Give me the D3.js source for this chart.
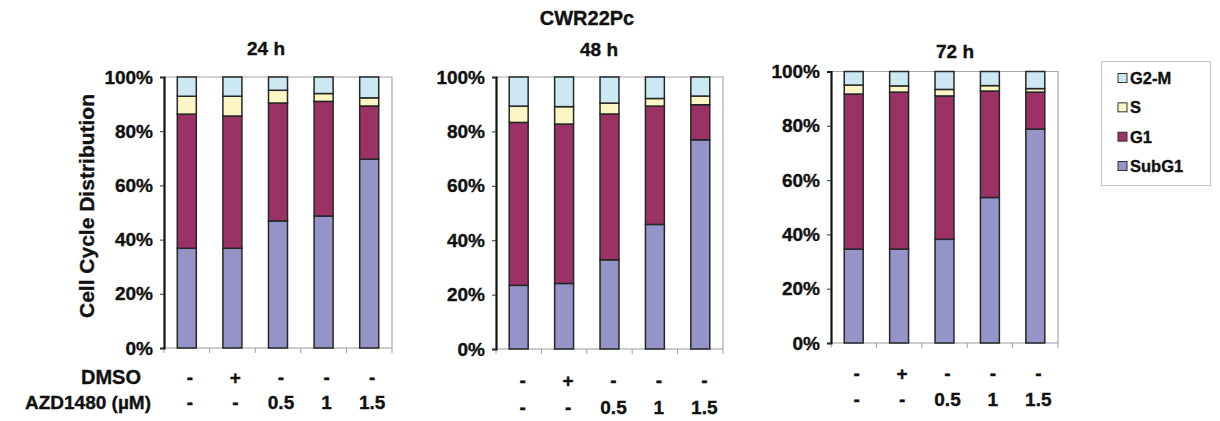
<!DOCTYPE html>
<html>
<head>
<meta charset="utf-8">
<script src="https://cdn.jsdelivr.net/npm/d3@7"></script>
<style>
  html, body { margin: 0; padding: 0; background: #fff; }
  svg { display: block; font-family: "Liberation Sans", Arial, Helvetica, sans-serif; font-weight: bold; }
  svg text { stroke: #111; stroke-width: 0.35px; }
</style>
</head>
<body>
<svg id="chart" width="1220" height="421"></svg>
<script>
// ---------- data ----------
const chartTitle = "CWR22Pc";
const panelTitles = ["24 h", "48 h", "72 h"];
const categories = ["c1", "c2", "c3", "c4", "c5"];
const dmsoLabels = ["-", "+", "-", "-", "-"];
const azdLabels = ["-", "-", "0.5", "1", "1.5"];
const rowLabels = ["DMSO", "AZD1480 (\u00b5M)"];
const phases = ["SubG1", "G1", "S", "G2-M"];
const legendOrder = ["G2-M", "S", "G1", "SubG1"];
const yTicks = [0, 20, 40, 60, 80, 100];

const subG1_24 = [36.8, 36.8, 46.9, 48.7, 69.7];
const g1_24    = [49.5, 48.8, 43.5, 42.3, 19.6];
const s_24     = [6.6, 7.3, 4.7, 2.9, 3.0];
const g2m_24   = [7.1, 7.1, 4.9, 6.1, 7.7];

const subG1_48 = [23.4, 24.1, 32.8, 45.8, 76.9];
const g1_48    = [59.9, 58.6, 53.6, 43.5, 12.9];
const s_48     = [6.0, 6.4, 4.0, 2.8, 3.2];
const g2m_48   = [10.7, 10.9, 9.6, 7.9, 7.0];

const subG1_72 = [34.6, 34.6, 38.2, 53.6, 78.8];
const g1_72    = [57.1, 57.8, 52.8, 39.2, 13.6];
const s_72     = [3.3, 2.3, 2.4, 2.0, 1.3];
const g2m_72   = [5.0, 5.3, 6.6, 5.2, 6.3];

const seriesByPanel = [
  [subG1_24, g1_24, s_24, g2m_24],
  [subG1_48, g1_48, s_48, g2m_48],
  [subG1_72, g1_72, s_72, g2m_72]
];

// ---------- styles / layout ----------
const colors = { "SubG1": "#9594c9", "G1": "#9a3265", "S": "#fbf6c3", "G2-M": "#cbe8f3" };
const layout = [
  { x0: 164, x1: 392, top: 77, bottom: 348, titleX: 266, titleY: 48, row1: 377, row2: 402, lblDx: 3 },
  { x0: 496, x1: 723, top: 77, bottom: 349, titleX: 599, titleY: 49, row1: 380, row2: 407, lblDx: 4 },
  { x0: 831, x1: 1058, top: 71.5, bottom: 343, titleX: 955, titleY: 51, row1: 373, row2: 399, lblDx: 3 }
];

const svg = d3.select("#chart");
const FS = 19;

svg.append("text").attr("x", 587).attr("y", 18)
  .attr("text-anchor", "middle").attr("dominant-baseline", "central")
  .attr("font-size", 20).attr("fill", "#111").text(chartTitle);

const stack = d3.stack().keys(phases);

layout.forEach((L, pi) => {
  const rows = categories.map((c, i) => {
    const o = { cat: c };
    phases.forEach((p, k) => { o[p] = seriesByPanel[pi][k][i]; });
    return o;
  });
  const stacked = stack(rows);

  const x = d3.scaleBand().domain(categories).range([L.x0, L.x1])
    .paddingInner(0.583).paddingOuter(0.583 / 2);
  const y = d3.scaleLinear().domain([0, 100]).range([L.bottom, L.top]);
  const g = svg.append("g");

  g.append("path")
    .attr("d", `M${L.x0},${L.top}H${L.x1}V${L.bottom}`)
    .attr("fill", "none").attr("stroke", "#a8a8a8").attr("stroke-width", 1.2);

  const step = x.step();
  const bounds = d3.range(categories.length + 1).map(i => L.x0 + i * step);
  g.append("line").attr("x1", L.x0).attr("x2", L.x1).attr("y1", L.bottom).attr("y2", L.bottom)
    .attr("stroke", "#9a9a9a").attr("stroke-width", 1.2);
  g.selectAll(".bt").data(bounds).join("line")
    .attr("x1", d => d).attr("x2", d => d).attr("y1", L.bottom).attr("y2", L.bottom + 5)
    .attr("stroke", "#a0a0a0").attr("stroke-width", 1);

  stacked.forEach(layer => {
    g.selectAll(null).data(layer).join("rect")
      .attr("x", d => x(d.data.cat))
      .attr("width", x.bandwidth())
      .attr("y", d => y(d[1]))
      .attr("height", d => y(d[0]) - y(d[1]))
      .attr("fill", colors[layer.key])
      .attr("stroke", "#262626").attr("stroke-width", 1.5);
  });

  const yAxis = d3.axisLeft(y).tickValues(yTicks).tickFormat(d => d + "%")
    .tickSize(4).tickPadding(7);
  const ya = g.append("g").attr("transform", `translate(${L.x0},0)`).call(yAxis);
  ya.select(".domain").attr("stroke", "#111").attr("stroke-width", 2.2);
  ya.selectAll(".tick line").attr("stroke", "#333").attr("stroke-width", 1);
  ya.selectAll(".tick text").attr("font-size", FS).attr("font-family", "Liberation Sans, Arial, sans-serif")
    .attr("font-weight", "bold").attr("fill", "#111");

  g.append("text").attr("x", L.titleX).attr("y", L.titleY)
    .attr("text-anchor", "middle").attr("dominant-baseline", "central")
    .attr("font-size", FS).attr("fill", "#111").text(panelTitles[pi]);

  g.selectAll(".r1").data(categories).join("text")
    .attr("x", (c) => x(c) + x.bandwidth() / 2 + L.lblDx)
    .attr("y", L.row1).attr("text-anchor", "middle").attr("dominant-baseline", "central")
    .attr("font-size", FS).attr("fill", "#111").text((c, i) => dmsoLabels[i]);
  g.selectAll(".r2").data(categories).join("text")
    .attr("x", (c) => x(c) + x.bandwidth() / 2 + L.lblDx)
    .attr("y", L.row2).attr("text-anchor", "middle").attr("dominant-baseline", "central")
    .attr("font-size", FS).attr("fill", "#111").text((c, i) => azdLabels[i]);
});

svg.append("text").attr("x", 141).attr("y", 377).attr("text-anchor", "end")
  .attr("dominant-baseline", "central").attr("font-size", 20).attr("fill", "#111").text(rowLabels[0]);
svg.append("text").attr("x", 151).attr("y", 402).attr("text-anchor", "end")
  .attr("dominant-baseline", "central").attr("font-size", FS).attr("fill", "#111").text(rowLabels[1]);

svg.append("text").attr("transform", "translate(86,206) rotate(-90)")
  .attr("text-anchor", "middle").attr("dominant-baseline", "central")
  .attr("font-size", 21).attr("fill", "#111").text("Cell Cycle Distribution");

const lg = svg.append("g");
lg.append("rect").attr("x", 1101.5).attr("y", 61.5).attr("width", 109).attr("height", 124)
  .attr("fill", "#fff").attr("stroke", "#c4c4c4").attr("stroke-width", 1);
const ly = d3.scalePoint().domain(legendOrder).range([78, 166]);
legendOrder.forEach(k => {
  lg.append("rect").attr("x", 1118).attr("y", ly(k) - 4.5).attr("width", 9).attr("height", 9)
    .attr("fill", colors[k]).attr("stroke", "#333").attr("stroke-width", 1);
  lg.append("text").attr("x", 1130).attr("y", ly(k)).attr("dominant-baseline", "central")
    .attr("font-size", 16.5).attr("fill", "#111").text(k);
});
</script>
</body>
</html>
